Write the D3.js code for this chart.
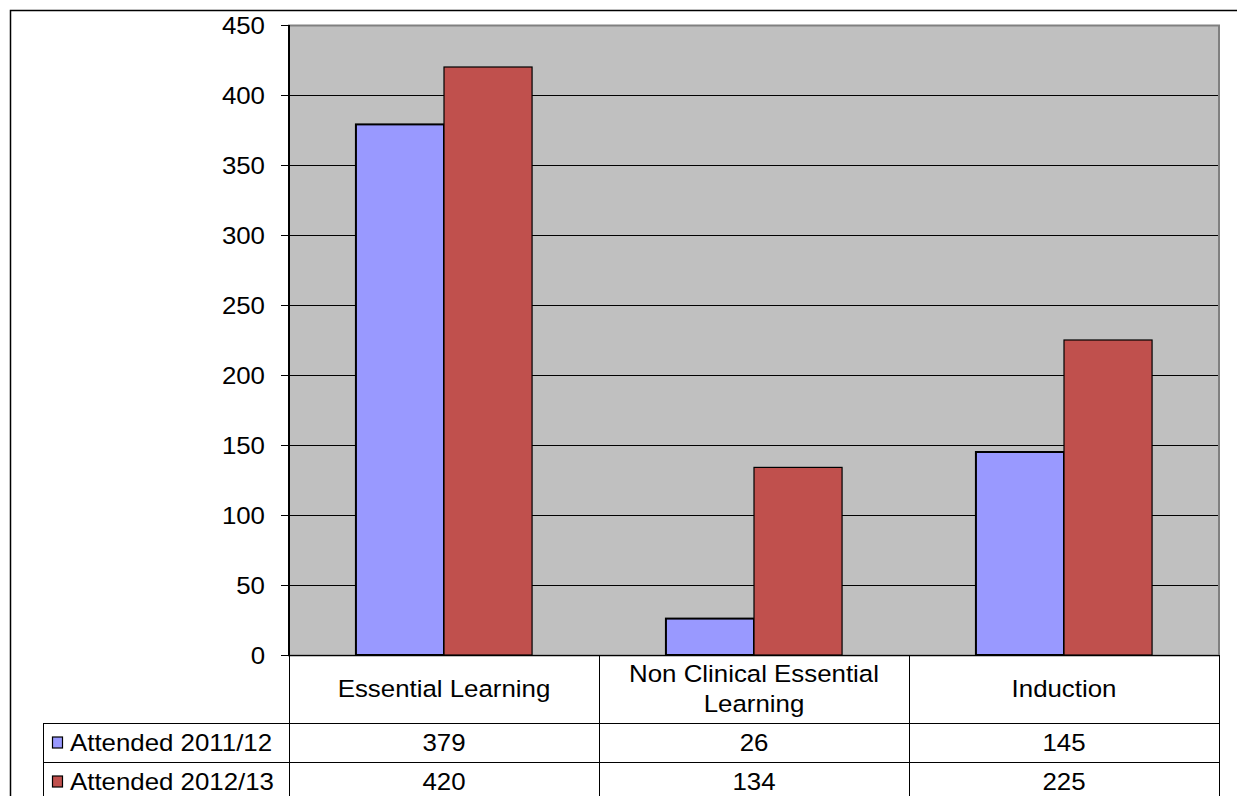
<!DOCTYPE html>
<html>
<head>
<meta charset="utf-8">
<script src="https://cdn.jsdelivr.net/npm/d3@7"></script>
<style>
  body { margin: 0; background: #fff; }
  text { font-family: "Liberation Sans", Arial, sans-serif; fill: #000; }
</style>
</head>
<body>
<div id="chart"></div>
<script>
// data
const categories = ["Essential Learning", "Non Clinical Essential Learning", "Induction"];
const categoryLines = [["Essential Learning"], ["Non Clinical Essential", "Learning"], ["Induction"]];
const seriesNames = ["Attended 2011/12", "Attended 2012/13"];
const attended1112 = [379, 26, 145];
const attended1213 = [420, 134, 225];
const yTicks = [0, 50, 100, 150, 200, 250, 300, 350, 400, 450];
const colors = ["#9999ff", "#c0504d"];

const width = 1237, height = 796;
const plot = { left: 289, right: 1219, top: 25, bottom: 655 };
const tableLeft = 43;
const rowY = [655, 723, 762, 801];
const fontSize = "23.5px";
const stretch = 1.1; // reference text is slightly wider than Arial

const svg = d3.select("#chart").append("svg")
    .attr("width", width)
    .attr("height", height);

// outer frame
svg.append("rect")
    .attr("x", 10.5).attr("y", 10.5)
    .attr("width", width).attr("height", height)
    .attr("fill", "none").attr("stroke", "#000").attr("stroke-width", 1.5);

const x = d3.scaleBand()
    .domain(categories)
    .range([plot.left, plot.right]);

const x1 = d3.scaleBand()
    .domain(seriesNames)
    .range([0, x.bandwidth()])
    .paddingOuter(0.76);

const y = d3.scaleLinear()
    .domain([0, 450])
    .range([plot.bottom, plot.top]);

// plot background
svg.append("rect")
    .attr("x", plot.left).attr("y", plot.top)
    .attr("width", plot.right - plot.left).attr("height", plot.bottom - plot.top)
    .attr("fill", "#c0c0c0");

// gridlines
svg.append("g")
    .selectAll("line")
    .data(yTicks.filter(d => d > 0 && d < 450))
    .join("line")
        .attr("x1", plot.left).attr("x2", plot.right)
        .attr("y1", d => Math.round(y(d)) + 0.5).attr("y2", d => Math.round(y(d)) + 0.5)
        .attr("stroke", "#000").attr("stroke-width", 1);

// plot border
svg.append("rect")
    .attr("x", plot.left).attr("y", plot.top + 0.5)
    .attr("width", plot.right - plot.left).attr("height", plot.bottom - plot.top)
    .attr("fill", "none").attr("stroke", "#808080").attr("stroke-width", 2);

// bars
const series = [attended1112, attended1213];
const groups = svg.append("g")
    .selectAll("g")
    .data(categories)
    .join("g")
        .attr("transform", d => `translate(${x(d)},0)`);

groups.selectAll("rect")
    .data((d, i) => seriesNames.map((s, j) => ({ s, v: series[j][i], j })))
    .join("rect")
        .attr("x", d => x1(d.s))
        .attr("y", d => y(d.v))
        .attr("width", x1.bandwidth())
        .attr("height", d => y(0) - y(d.v))
        .attr("fill", d => colors[d.j])
        .attr("stroke", "#000")
        .attr("stroke-width", d => d.j === 0 ? 2 : 1.2);

// y axis
const yAxis = svg.append("g")
    .attr("transform", `translate(${plot.left},0)`)
    .call(d3.axisLeft(y).tickValues(yTicks).tickSize(8));
yAxis.select(".domain").attr("stroke", "#000").attr("stroke-width", 2).attr("d", `M0,${plot.top}V${plot.bottom}`);
yAxis.selectAll(".tick line").attr("stroke", "#000");
yAxis.selectAll(".tick text")
    .attr("x", 0)
    .attr("transform", `translate(-24,0) scale(${stretch},1)`)
    .style("font-size", fontSize)
    .style("font-family", "Liberation Sans, Arial, sans-serif")
    .attr("fill", "#000")
    .attr("dy", "0.35em");

// helper for stretched text
function label(g, tx, ty, txt, anchor) {
    return g.append("text")
        .attr("transform", `translate(${tx},${ty}) scale(${stretch},1)`)
        .attr("dy", "0.35em")
        .attr("text-anchor", anchor)
        .style("font-size", fontSize)
        .text(txt);
}

// data table
const table = svg.append("g");
const colEdges = [plot.left].concat(categories.map(c => x(c) + x.bandwidth()));

// horizontal lines
table.selectAll("line.h")
    .data([[plot.left, rowY[0]], [tableLeft, rowY[1]], [tableLeft, rowY[2]]])
    .join("line")
        .attr("class", "h")
        .attr("x1", d => d[0]).attr("x2", plot.right + 1)
        .attr("y1", d => d[1] + 0.5).attr("y2", d => d[1] + 0.5)
        .attr("stroke", "#000").attr("stroke-width", 1);

// vertical lines
table.selectAll("line.v")
    .data(colEdges)
    .join("line")
        .attr("class", "v")
        .attr("x1", d => d + 0.5).attr("x2", d => d + 0.5)
        .attr("y1", rowY[0]).attr("y2", height)
        .attr("stroke", "#000").attr("stroke-width", 1);
table.append("line")
    .attr("x1", tableLeft + 0.5).attr("x2", tableLeft + 0.5)
    .attr("y1", rowY[1]).attr("y2", height)
    .attr("stroke", "#000").attr("stroke-width", 1);

// category labels
categories.forEach((c, i) => {
    const lines = categoryLines[i];
    lines.forEach((t, k) => {
        const cy = (rowY[0] + rowY[1]) / 2 + (k - (lines.length - 1) / 2) * 30;
        label(table, x(c) + x.bandwidth() / 2, cy, t, "middle");
    });
});

// series rows
seriesNames.forEach((name, j) => {
    const cy = (rowY[j + 1] + rowY[j + 2]) / 2;
    table.append("rect")
        .attr("x", 52.5).attr("y", cy - 5.5)
        .attr("width", 10).attr("height", 11)
        .attr("fill", colors[j]).attr("stroke", "#000").attr("stroke-width", 1.2);
    label(table, 70, cy, name, "start");
    series[j].forEach((v, i) => {
        label(table, x(categories[i]) + x.bandwidth() / 2, cy, v, "middle");
    });
});
</script>
</body>
</html>
